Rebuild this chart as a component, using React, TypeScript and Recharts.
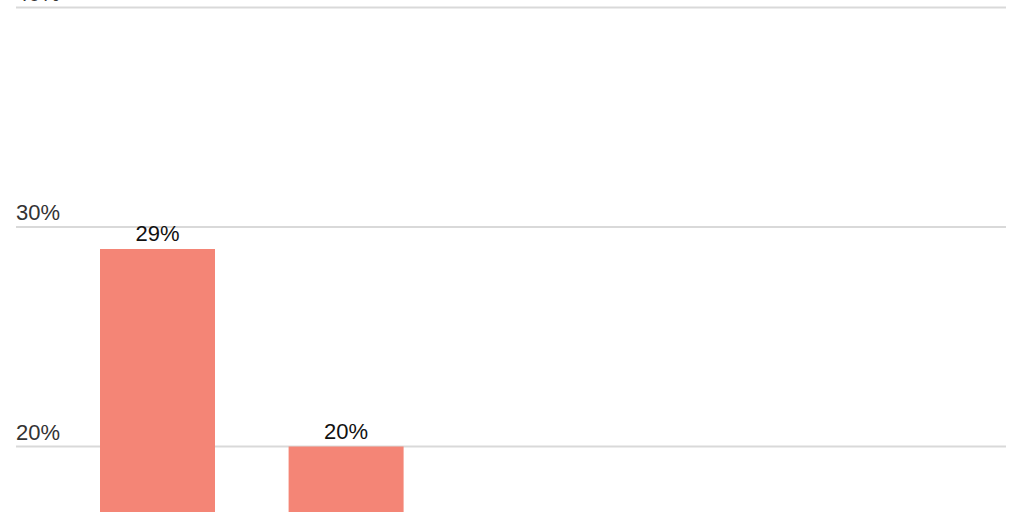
import React from "react";
import { BarChart, Bar, XAxis, YAxis, LabelList, CartesianGrid } from "recharts";

const categories = ["Category 1", "Category 2", "Category 3", "Category 4", "Category 5"];
const values = [29, 20, 14, 11, 7];
const yTicks = [0, 10, 20, 30, 40];

const data = categories.map((c, i) => ({ name: c, value: values[i] }));

const FONT = "'Liberation Sans', Arial, sans-serif";

const YTick = (props: any) => {
  const { y, payload } = props;
  return (
    <text x={16} y={y - 7} fill="#333333" fontSize={22} fontFamily={FONT} textAnchor="start">
      {`${payload.value}%`}
    </text>
  );
};

const GridLine = (props: any) => {
  const { y1, y2 } = props;
  return <line x1={16} x2={1006} y1={y1} y2={y2} stroke="#d9d9d9" strokeWidth={2} />;
};

const BarLabel = (props: any) => {
  const { x, y, width, value } = props;
  return (
    <text x={x + width / 2} y={y - 8} fill="#111111" fontSize={22} fontFamily={FONT} textAnchor="middle">
      {`${value}%`}
    </text>
  );
};

export default function App() {
  return (
    <div style={{ position: "absolute", top: -30, left: 0, background: "#fff" }}>
      <BarChart
        width={1024}
        height={956}
        data={data}
        margin={{ top: 37.5, right: 18, bottom: 10.5, left: 16 }}
      >
        <CartesianGrid vertical={false} horizontal={<GridLine />} />
        <XAxis dataKey="name" height={30} axisLine={false} tickLine={false} tick={{ fontSize: 18, fontFamily: FONT, fill: "#333" }} />
        <YAxis
          width={47}
          domain={[0, 40]}
          ticks={yTicks}
          axisLine={false}
          tickLine={false}
          tick={<YTick />}
          interval={0}
        />
        <Bar dataKey="value" fill="#f48576" barSize={115} isAnimationActive={false}>
          <LabelList dataKey="value" content={<BarLabel />} />
        </Bar>
      </BarChart>
    </div>
  );
}
